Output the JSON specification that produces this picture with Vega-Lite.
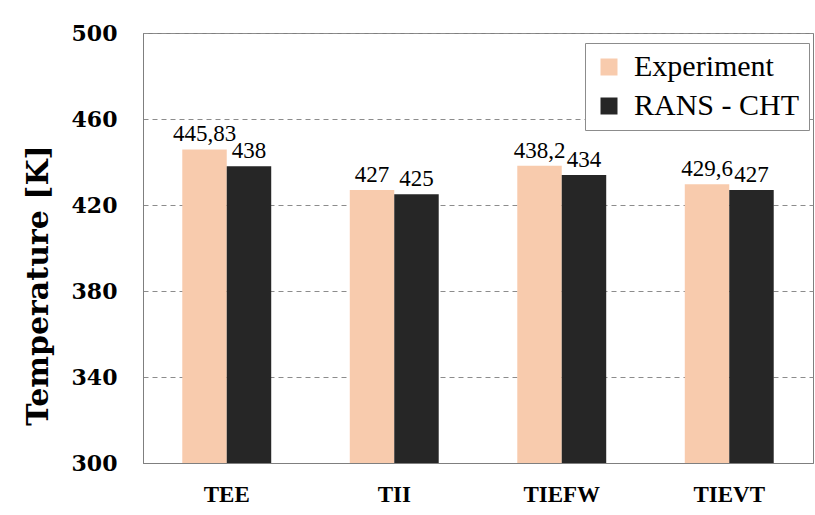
{
  "$schema": "https://vega.github.io/schema/vega-lite/v6.json",
  "autosize": "none",
  "width": 670,
  "height": 430,
  "padding": {"left": 143, "top": 33, "right": 2, "bottom": 52},
  "background": "white",
  "config": {
    "view": {"stroke": "#7f7f7f", "strokeWidth": 1},
    "font": "Liberation Serif"
  },
  "data": {
    "values": [
      {"cat": "TEE", "series": "Experiment", "value": 445.83, "label": "445,83"},
      {"cat": "TEE", "series": "RANS - CHT", "value": 438, "label": "438"},
      {"cat": "TII", "series": "Experiment", "value": 427, "label": "427"},
      {"cat": "TII", "series": "RANS - CHT", "value": 425, "label": "425"},
      {"cat": "TIEFW", "series": "Experiment", "value": 438.2, "label": "438,2"},
      {"cat": "TIEFW", "series": "RANS - CHT", "value": 434, "label": "434"},
      {"cat": "TIEVT", "series": "Experiment", "value": 429.6, "label": "429,6"},
      {"cat": "TIEVT", "series": "RANS - CHT", "value": 427, "label": "427"}
    ]
  },
  "encoding": {
    "x": {
      "field": "cat", "type": "nominal", "sort": null,
      "scale": {"paddingInner": 0.469, "paddingOuter": 0.2345},
      "axis": {
        "title": null, "labelAngle": 0, "ticks": false,
        "domainColor": "#7f7f7f", "labelFont": "Liberation Serif",
        "labelFontWeight": "bold", "labelFontSize": 23, "labelColor": "black",
        "labelPadding": 20, "labelBaseline": "top"
      }
    },
    "xOffset": {"field": "series", "type": "nominal", "sort": ["Experiment", "RANS - CHT"]},
    "y": {
      "field": "value", "type": "quantitative",
      "scale": {"domain": [300, 500], "nice": false, "zero": false},
      "axis": {
        "title": "Temperature [K]", "values": [300, 340, 380, 420, 460, 500],
        "ticks": false, "domainColor": "#7f7f7f",
        "grid": true, "gridColor": "#8c8c8c", "gridDash": [5, 4], "gridWidth": 1,
        "labelFont": "DejaVu Serif", "labelFontWeight": "bold",
        "labelFontSize": 22, "labelColor": "black", "labelPadding": 26,
        "titleFont": "DejaVu Serif", "titleFontWeight": "bold",
        "titleFontSize": 30, "titleColor": "black",
        "titleX": -105, "titleY": 252, "titleAngle": -90,
        "titleAlign": "center", "titleBaseline": "middle"
      }
    }
  },
  "layer": [
    {
      "mark": {"type": "bar", "clip": true},
      "encoding": {
        "color": {
          "field": "series", "type": "nominal",
          "scale": {"domain": ["Experiment", "RANS - CHT"], "range": ["#F8CBAD", "#262626"]},
          "legend": {
            "title": null, "orient": "none", "legendX": 442, "legendY": 10,
            "direction": "vertical",
            "fillColor": "white", "strokeColor": "#8c8c8c", "padding": 9,
            "symbolType": "square", "symbolSize": 289, "symbolStrokeWidth": 0,
            "labelFont": "Liberation Serif", "labelFontSize": 30, "labelColor": "black",
            "labelOffset": 10, "rowPadding": 9, "labelLimit": 300
          }
        }
      }
    },
    {
      "mark": {"type": "text", "baseline": "alphabetic", "dy": -8, "fontSize": 23, "font": "Liberation Serif", "color": "black"},
      "encoding": {"text": {"field": "label"}}
    }
  ]
}
